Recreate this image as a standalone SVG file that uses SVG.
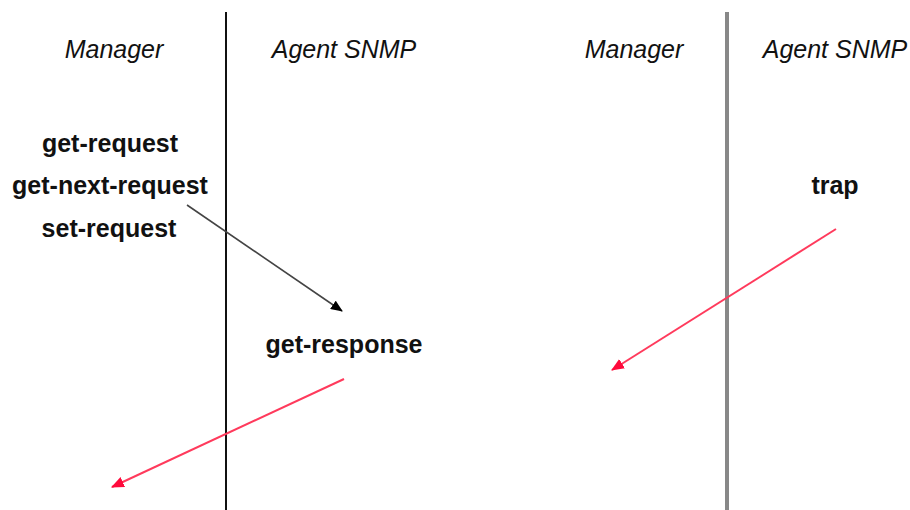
<svg xmlns="http://www.w3.org/2000/svg" width="910" height="510" viewBox="0 0 910 510">
  <style>
    .role { font-family: "Liberation Sans", Arial, sans-serif; font-style: italic; font-size: 25px; fill: #111; text-anchor: middle; }
    .msg { font-family: "Liberation Sans", Arial, sans-serif; font-weight: bold; font-size: 25px; fill: #111; text-anchor: middle; }
    .req { fill: none; stroke: #444; stroke-width: 1.6; }
    .rsp { fill: none; stroke: #ff3a5c; stroke-width: 2; }
  </style>
  <defs>
    <marker id="headBlack" viewBox="0 0 12 10" refX="11" refY="5" markerWidth="12" markerHeight="10" markerUnits="userSpaceOnUse" orient="auto">
      <path d="M0,0 L12,5 L0,10 Z" fill="#000"/>
    </marker>
    <marker id="headRed" viewBox="0 0 12 10" refX="11" refY="5" markerWidth="13" markerHeight="11" markerUnits="userSpaceOnUse" orient="auto">
      <path d="M0,0 L12,5 L0,10 Z" fill="#ff0a3c"/>
    </marker>
  </defs>
  <rect width="910" height="510" fill="#fff"/>

  <!-- left exchange: requests and response -->
  <g id="lane-left">
    <line x1="226" y1="12" x2="226" y2="510" stroke="#111" stroke-width="2"/>
    <text class="role" x="114" y="58">Manager</text>
    <text class="role" x="344" y="58">Agent SNMP</text>
  </g>
  <g id="requests">
    <text class="msg" x="110" y="152">get-request</text>
    <text class="msg" x="110" y="194">get-next-request</text>
    <text class="msg" x="109" y="237">set-request</text>
  </g>
  <g id="response">
    <text class="msg" x="344" y="353">get-response</text>
  </g>

  <!-- right exchange: trap -->
  <g id="lane-right">
    <line x1="727" y1="12" x2="727" y2="510" stroke="#888" stroke-width="4"/>
    <text class="role" x="634" y="58">Manager</text>
    <text class="role" x="835" y="58">Agent SNMP</text>
  </g>
  <g id="trap">
    <text class="msg" x="835" y="194">trap</text>
  </g>

  <g id="connectors">
    <line class="req" x1="187" y1="205" x2="342" y2="311" marker-end="url(#headBlack)"/>
    <line class="rsp" x1="344" y1="379" x2="112" y2="487" marker-end="url(#headRed)"/>
    <line class="rsp" x1="836" y1="229" x2="612" y2="370" marker-end="url(#headRed)"/>
  </g>
</svg>
